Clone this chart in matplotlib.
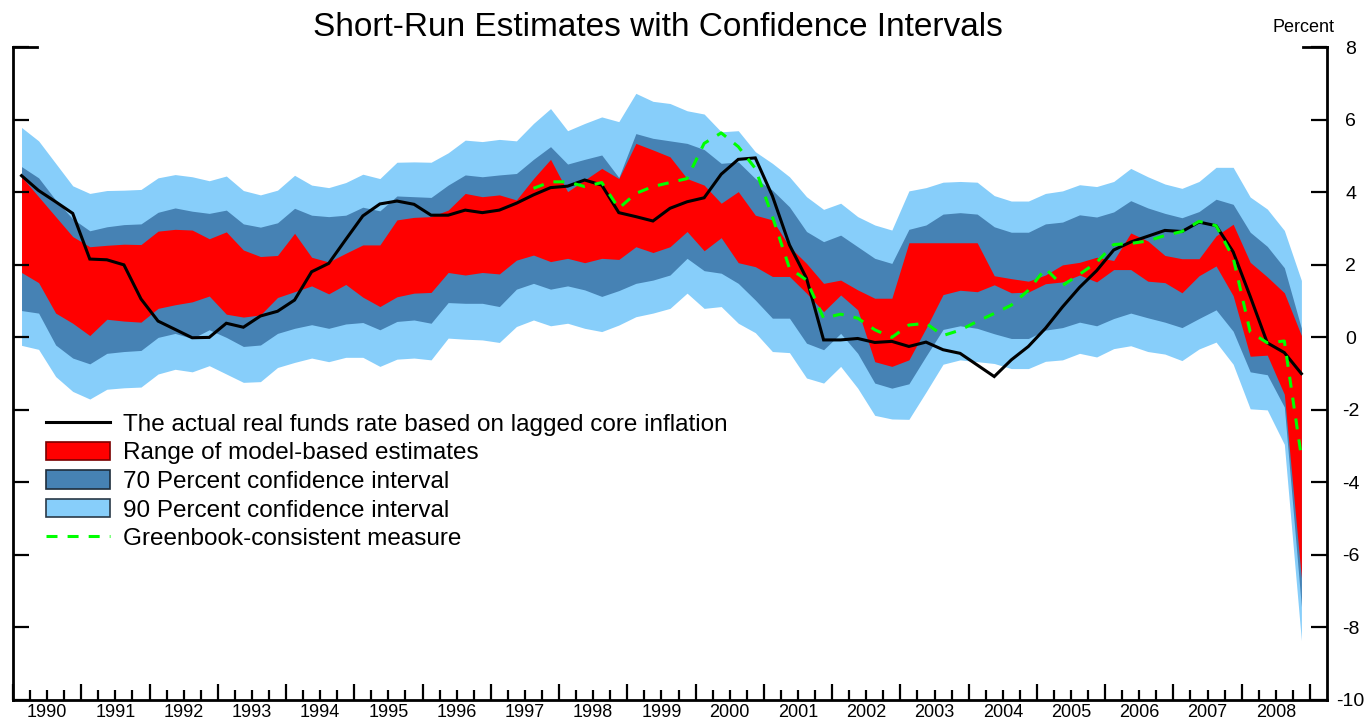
"""Short-run real rate estimates with confidence bands, 1990-2008 (quarterly)."""

import numpy as np
import matplotlib

matplotlib.use("Agg")
import matplotlib.pyplot as plt
from matplotlib.lines import Line2D
from matplotlib.patches import Patch

plt.rcParams["font.family"] = ["Liberation Sans", "DejaVu Sans"]
plt.rcParams["axes.unicode_minus"] = False

FIRST_YEAR = 1990
LAST_YEAR = 2008
YEARS = list(range(FIRST_YEAR, LAST_YEAR + 1))
Y_TICKS = list(range(-10, 9, 2))

# actual real funds rate (lagged core inflation), 1990Q1 .. 2008Q4
actual = [
    4.46, 4.05, 3.74, 3.42, 2.16, 2.14, 2.00, 1.06, 0.45, 0.22, -0.01, 0.00, 0.39,
    0.28, 0.59, 0.72, 1.03, 1.81, 2.04, 2.70, 3.35, 3.68, 3.76, 3.67, 3.37, 3.37,
    3.51, 3.44, 3.51, 3.70, 3.93, 4.13, 4.17, 4.34, 4.20, 3.44, 3.33, 3.21, 3.56,
    3.74, 3.85, 4.50, 4.91, 4.95, 3.90, 2.55, 1.63, -0.07, -0.07, -0.03, -0.14, -0.11,
    -0.25, -0.13, -0.34, -0.44, -0.76, -1.08, -0.62, -0.25, 0.25, 0.84, 1.38, 1.84,
    2.41, 2.63, 2.79, 2.95, 2.92, 3.18, 3.08, 2.36, 1.13, -0.15, -0.42, -1.00,
]

# Greenbook-consistent measure, available from 1997Q3
greenbook = [np.nan] * 30 + [
    4.11, 4.29, 4.29, 4.16, 4.27, 3.56, 3.97, 4.16, 4.27, 4.38, 5.35, 5.64, 5.26,
    4.66, 3.33, 1.91, 1.58, 0.53, 0.64, 0.53, 0.21, 0.00, 0.34,
    0.39, 0.05, 0.20, 0.44, 0.66, 0.89, 1.30, 1.90, 1.43, 1.74, 2.07, 2.56, 2.59,
    2.66, 2.81, 2.92, 3.20, 3.08, 2.20, 0.15, -0.15, -0.10, -3.30,
]

# range of model-based estimates
model_hi = [
    4.43, 3.88, 3.33, 2.78, 2.50, 2.54, 2.57, 2.56, 2.93, 2.98, 2.96, 2.72, 2.91,
    2.41, 2.23, 2.26, 2.87, 2.21, 2.08, 2.32, 2.55, 2.55, 3.24, 3.31, 3.33, 3.51,
    3.97, 3.88, 3.93, 3.79, 4.38, 4.91, 4.02, 4.34, 4.66, 4.38, 5.35, 5.17, 4.98,
    4.38, 4.20, 3.70, 4.02, 3.37, 3.24, 2.50, 2.04, 1.49, 1.58, 1.31, 1.08, 1.08,
    2.61, 2.61, 2.61, 2.61, 2.61, 1.70, 1.62, 1.55, 1.72, 2.00, 2.07, 2.21, 2.12,
    2.88, 2.66, 2.26, 2.17, 2.17, 2.80, 3.12, 2.07, 1.67, 1.23, 0.05,
]
model_lo = [
    1.79, 1.51, 0.67, 0.39, 0.05, 0.50, 0.45, 0.42, 0.80, 0.90, 0.98, 1.14, 0.64,
    0.56, 0.62, 1.10, 1.26, 1.42, 1.20, 1.46, 1.11, 0.85, 1.12, 1.22, 1.24, 1.79,
    1.72, 1.79, 1.75, 2.13, 2.27, 2.09, 2.18, 2.06, 2.18, 2.15, 2.50, 2.34, 2.50,
    2.92, 2.39, 2.75, 2.06, 1.95, 1.68, 1.68, 1.22, 0.71, 1.17, 0.76, -0.67, -0.80,
    -0.62, 0.25, 1.18, 1.30, 1.26, 1.45, 1.23, 1.25, 1.48, 1.53, 1.72, 1.53, 1.87,
    1.87, 1.55, 1.51, 1.23, 1.70, 1.97, 1.15, -0.52, -0.49, -1.57, -6.64,
]

# 70 percent confidence interval
ci70_hi = [
    4.71, 4.40, 3.79, 3.27, 2.94, 3.05, 3.11, 3.13, 3.45, 3.57, 3.48, 3.42, 3.51,
    3.13, 3.04, 3.16, 3.56, 3.37, 3.33, 3.37, 3.59, 3.49, 3.90, 3.88, 3.86, 4.20,
    4.48, 4.43, 4.48, 4.52, 4.91, 5.26, 4.78, 4.91, 5.03, 4.41, 5.62, 5.49, 5.42,
    5.35, 5.18, 4.80, 4.84, 4.38, 4.06, 3.60, 2.92, 2.64, 2.82, 2.50, 2.18, 2.04,
    2.98, 3.10, 3.40, 3.44, 3.40, 3.05, 2.90, 2.90, 3.13, 3.18, 3.38, 3.32, 3.46,
    3.77, 3.57, 3.42, 3.30, 3.47, 3.81, 3.67, 2.90, 2.51, 1.92, 0.25,
]
ci70_lo = [
    0.74, 0.67, -0.21, -0.57, -0.73, -0.44, -0.39, -0.36, 0.00, 0.11, -0.03, 0.21, 0.00,
    -0.25, -0.21, 0.11, 0.25, 0.35, 0.25, 0.37, 0.41, 0.21, 0.44, 0.48, 0.39, 0.96,
    0.94, 0.94, 0.85, 1.33, 1.49, 1.33, 1.42, 1.31, 1.13, 1.29, 1.49, 1.58, 1.72,
    2.18, 1.84, 1.77, 1.49, 1.03, 0.53, 0.53, -0.16, -0.34, 0.11, -0.44, -1.26, -1.40,
    -1.28, -0.52, 0.22, 0.32, 0.25, 0.10, -0.03, -0.03, 0.20, 0.27, 0.42, 0.32, 0.52,
    0.67, 0.54, 0.42, 0.27, 0.52, 0.76, 0.17, -0.95, -1.03, -1.92, -7.43,
]

# 90 percent confidence interval
ci90_hi = [
    5.79, 5.42, 4.80, 4.18, 3.97, 4.05, 4.06, 4.08, 4.40, 4.49, 4.43, 4.32, 4.45,
    4.05, 3.93, 4.06, 4.47, 4.20, 4.13, 4.27, 4.50, 4.38, 4.83, 4.84, 4.83, 5.09,
    5.44, 5.40, 5.46, 5.42, 5.90, 6.31, 5.70, 5.90, 6.08, 5.95, 6.73, 6.51, 6.45,
    6.25, 6.16, 5.67, 5.70, 5.12, 4.80, 4.43, 3.88, 3.53, 3.70, 3.33, 3.10, 2.96,
    4.04, 4.13, 4.28, 4.30, 4.28, 3.91, 3.76, 3.76, 3.97, 4.04, 4.21, 4.16, 4.30,
    4.66, 4.43, 4.23, 4.11, 4.30, 4.69, 4.69, 3.87, 3.54, 2.95, 1.57,
]
ci90_lo = [
    -0.22, -0.33, -1.08, -1.49, -1.70, -1.43, -1.39, -1.37, -1.01, -0.88, -0.95, -0.78, -1.01,
    -1.24, -1.22, -0.83, -0.69, -0.57, -0.67, -0.55, -0.55, -0.80, -0.60, -0.57, -0.62, -0.02,
    -0.05, -0.07, -0.14, 0.30, 0.48, 0.32, 0.39, 0.25, 0.16, 0.34, 0.57, 0.67, 0.80,
    1.22, 0.80, 0.85, 0.39, 0.13, -0.39, -0.42, -1.12, -1.26, -0.80, -1.40, -2.15, -2.25,
    -2.26, -1.51, -0.74, -0.62, -0.67, -0.72, -0.86, -0.86, -0.66, -0.62, -0.44, -0.54, -0.31,
    -0.23, -0.39, -0.46, -0.64, -0.32, -0.13, -0.74, -1.97, -2.00, -2.95, -8.36,
]

LABELS = [
    "The actual real funds rate based on lagged core inflation",
    "Range of model-based estimates",
    "70 Percent confidence interval",
    "90 Percent confidence interval",
    "Greenbook-consistent measure",
]

RED = "#ff0000"
STEEL = "#4682b4"
SKY = "#87cefa"
GREEN = "#00ff00"

# quarters plotted at the middle of each quarter
t = FIRST_YEAR + 0.125 + 0.25 * np.arange(len(actual))

fig = plt.figure(figsize=(13.66, 7.19), dpi=100)
ax = fig.add_axes([13 / 1366, 1 - 700 / 719, 1314 / 1366, (700 - 47.3) / 719])

ax.fill_between(t, ci90_lo, ci90_hi, color=SKY, lw=0)
ax.fill_between(t, ci70_lo, ci70_hi, color=STEEL, lw=0)
ax.fill_between(t, model_lo, model_hi, color=RED, lw=0)
ax.plot(t, actual, color="black", lw=2.2, solid_joinstyle="miter")
ax.plot(t, greenbook, color=GREEN, lw=2.2, dashes=(3.6, 3.3))

ax.set_xlim(FIRST_YEAR, LAST_YEAR + 1.25)
ax.set_ylim(-10, 8)

ax.spines["top"].set_visible(False)
for side in ("left", "right", "bottom"):
    ax.spines[side].set_linewidth(2)

# y axis: ticks on both sides pointing in, labels only on the right
ax.set_yticks(Y_TICKS, [str(v) for v in Y_TICKS], ha="center")
ax.tick_params(axis="y", which="both", left=True, right=True, labelleft=False,
               labelright=True, direction="in", length=11.5, width=1.6,
               labelsize=14, pad=17)
# longer corner ticks at the top of both axes
ax.axhline(8, xmin=0, xmax=0.018, color="black", lw=2, clip_on=False)
ax.axhline(8, xmin=0.982, xmax=1, color="black", lw=2, clip_on=False)

# x axis: long ticks at year boundaries, short ones at quarters
ax.set_xticks(range(FIRST_YEAR, LAST_YEAR + 2))
ax.set_xticks(np.arange(FIRST_YEAR, LAST_YEAR + 1.01, 0.25), minor=True)
ax.tick_params(axis="x", which="major", direction="in", length=11.5, width=1.6,
               labelbottom=False)
ax.tick_params(axis="x", which="minor", direction="in", length=7, width=1.6)

years_ax = ax.secondary_xaxis("bottom")
years_ax.set_xticks([y + 0.5 for y in YEARS], [str(y) for y in YEARS])
years_ax.tick_params(length=0, labelsize=13, pad=3)
years_ax.spines["bottom"].set_visible(False)

fig.text(0.482, 1 - 28 / 719, "Short-Run Estimates with Confidence Intervals",
         ha="center", va="center", fontsize=24)
fig.text(1304 / 1366, 1 - 27 / 719, "Percent", ha="center", va="center",
         fontsize=13)

handles = [
    Line2D([], [], color="black", lw=2.2),
    Patch(facecolor=RED, edgecolor="#7a0000", lw=1.2),
    Patch(facecolor=STEEL, edgecolor="#1e2d3c", lw=1.2),
    Patch(facecolor=SKY, edgecolor="#2a3a48", lw=1.2),
    Line2D([], [], color=GREEN, lw=2.2, dashes=(3.6, 3.3)),
]
fig.legend(handles, LABELS, loc="upper left",
           bbox_to_anchor=(45.7 / 1366, 1 - 413 / 719), frameon=False,
           fontsize=17.5, handlelength=2.65, handleheight=0.78, handletextpad=0.55,
           labelspacing=0.25, borderpad=0, borderaxespad=0)

fig.savefig("out.png", dpi=100)
